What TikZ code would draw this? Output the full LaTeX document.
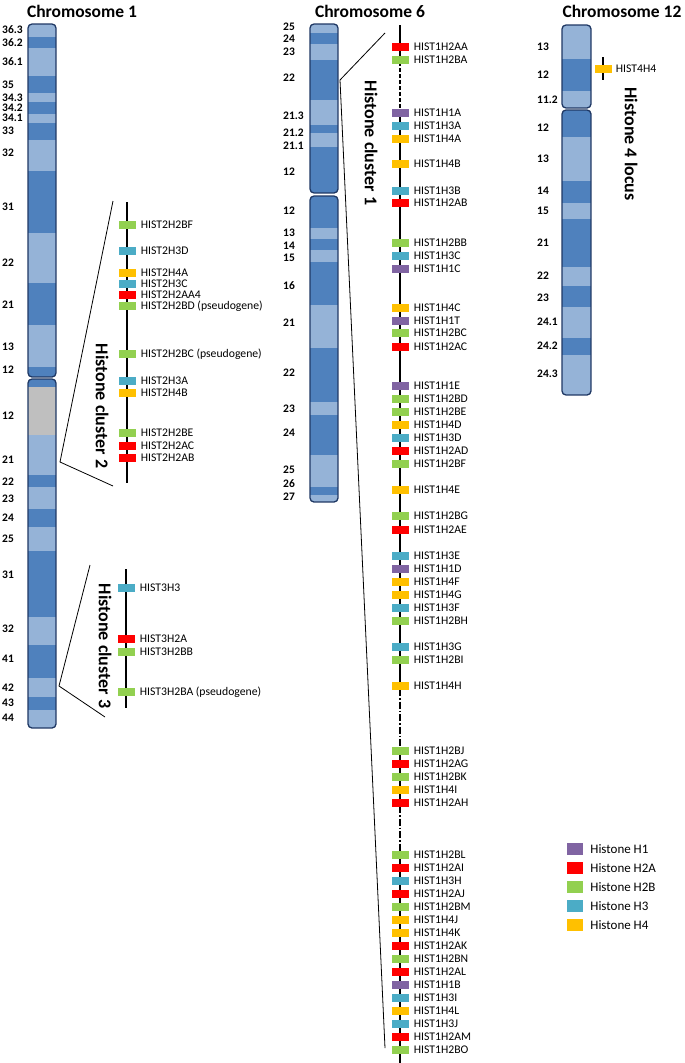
\documentclass[tikz,border=0pt]{standalone}
\usepackage{fontspec}
\setmainfont{Carlito}
\usepackage{tikz}
\usetikzlibrary{positioning}
\usepackage{xcolor}
\definecolor{hone}{HTML}{8064A2}
\definecolor{htwoa}{HTML}{FF0000}
\definecolor{htwob}{HTML}{92D050}
\definecolor{hthree}{HTML}{4BACC6}
\definecolor{hfour}{HTML}{FFC000}
\definecolor{bandlt}{HTML}{95B3D7}
\definecolor{banddk}{HTML}{4F81BD}
\definecolor{bandgr}{HTML}{BFBFBF}
\definecolor{chrline}{HTML}{1F3864}
% one chromosome arm: left, right, top, bottom, bands
\newcommand{\chromarm}[5]{%
  \begin{scope}
    \clip[rounded corners=4pt] (#1,#3) rectangle (#2,#4);
    \foreach \ta/\tb/\tc in {#5} \fill[\tc] (#1,\ta) rectangle (#2,\tb);
  \end{scope}
  \draw[chrom] (#1,#3) rectangle (#2,#4);}
\begin{document}
\begin{tikzpicture}[x=1pt,y=-1pt,
  chrom/.style={draw=chrline,line width=1.3pt,rounded corners=4pt},
  gene/.style={minimum width=17pt,minimum height=8pt,inner sep=0pt},
  legsq/.style={minimum width=16pt,minimum height=12pt,inner sep=0pt},
  glabel/.style={font=\fontsize{11.7}{13}\selectfont,inner sep=0pt,anchor=west},
  leglabel/.style={font=\fontsize{13}{15}\selectfont,inner sep=0pt,anchor=west},
  blabel/.style={font=\bfseries\fontsize{11.5}{13}\selectfont,inner sep=0pt,anchor=west},
  title/.style={font=\bfseries\fontsize{17.5}{20}\selectfont,inner sep=0pt},
  cluster/.style={font=\bfseries\fontsize{18}{20}\selectfont,inner sep=0pt,rotate=-90},
  gline/.style={line width=1.6pt},
  zoomline/.style={line width=0.8pt}]
\useasboundingbox[fill=white] (0,0) rectangle (685,1063);

% chromosomes
\chromarm{28}{56}{24}{377}{24/37/bandlt,37/48/banddk,48/76/bandlt,76/93/banddk,93/102/bandlt,102/114/banddk,114/123/bandlt,123/140/banddk,140/171/bandlt,171/233/banddk,233/283/bandlt,283/325/banddk,325/367/bandlt,367/377/banddk}
\chromarm{28}{56}{379}{728}{379/387/banddk,387/435/bandgr,435/475/bandlt,475/487/banddk,487/509/bandlt,509/527/banddk,527/551/bandlt,551/617/banddk,617/645/bandlt,645/678/banddk,678/697/bandlt,697/710/banddk,710/728/bandlt}
\chromarm{310}{338}{24}{193}{24/33/bandlt,33/44/banddk,44/60/bandlt,60/100/banddk,100/125/bandlt,125/133/banddk,133/147/bandlt,147/193/banddk}
\chromarm{310}{338}{196}{502}{196/228/banddk,228/239/bandlt,239/250/banddk,250/262/bandlt,262/305/banddk,305/348/bandlt,348/402/banddk,402/415/bandlt,415/455/banddk,455/487/bandlt,487/495/banddk,495/502/bandlt}
\chromarm{562}{591}{25}{108}{25/59/bandlt,59/91/banddk,91/108/bandlt}
\chromarm{562}{591}{110}{395}{110/137/banddk,137/181/bandlt,181/203/banddk,203/219/bandlt,219/267/banddk,267/286/bandlt,286/307/banddk,307/338/bandlt,338/355/banddk,355/395/bandlt}

% band labels
\foreach \by/\bn [count=\i] in {30/36.3,43/36.2,62/36.1,85/35,98/34.3,108/34.2,118/34.1,131/33,153/32,207/31,263/22,305/21,347/13,370/12,416/12,460/21,482/22,499/23,518/24,539/25,575/31,629/32,659/41,688/42,703/43,718/44}
  \node[blabel] (ba\i) at (2,\by) {\bn};
\foreach \by/\bn [count=\i] in {27/25,39/24,52/23,78/22,116/21.3,133/21.2,146/21.1,172/12,211/12,233/13,246/14,258/15,286/16,323/21,373/22,409/23,433/24,470/25,484/26,497/27}
  \node[blabel] (bf\i) at (283,\by) {\bn};
\foreach \by/\bn [count=\i] in {47/13,75/12,100/11.2,128/12,159/13,191/14,211/15,243/21,276/22,298/23,322/24.1,346/24.2,374/24.3}
  \node[blabel] (bt\i) at (537,\by) {\bn};

% titles
\node[title] (tA) at (82,11) {Chromosome 1};
\node[title] (tF) at (370,11) {Chromosome 6};
\node[title] (tT) at (622,11) {Chromosome 12};

% zoom lines
\coordinate (cF) at (340,80);
\coordinate (kAtop) at (385,33);
\coordinate (kAbot) at (385,1048);
\draw[zoomline] (kAtop) -- (cF) -- (kAbot);
\coordinate (cA) at (60,462);
\coordinate (kBtop) at (113,201);
\coordinate (kBbot) at (113,486);
\draw[zoomline] (kBtop) -- (cA) -- (kBbot);
\coordinate (cB) at (59,686);
\coordinate (kCtop) at (90,565);
\coordinate (kCbot) at (105,717);
\draw[zoomline] (kCtop) -- (cB) -- (kCbot);

% cluster 1 line
\coordinate (s1) at (400,25);
\coordinate (s2) at (400,62);
\coordinate (s3) at (400,110);
\coordinate (s4) at (400,689);
\coordinate (s5) at (400,748);
\coordinate (s6) at (400,806);
\coordinate (s7) at (400,852);
\coordinate (s8) at (400,1063);
\draw[gline] (s1) -- (s2);
\draw[gline,dash pattern=on 4pt off 2pt] (s2) -- (s3);
\draw[gline] (s3) -- (s4);
\draw[gline,dash pattern=on 7pt off 2pt on 1.5pt off 2pt] (s4) -- (s5);
\draw[gline] (s5) -- (s6);
\draw[gline,dash pattern=on 7pt off 2pt on 1.5pt off 2pt] (s6) -- (s7);
\draw[gline] (s7) -- (s8);
% cluster 2 and 3 lines
\coordinate (u1) at (127,202);
\coordinate (u2) at (127,483);
\draw[gline] (u1) -- (u2);
\coordinate (v1) at (126,569);
\coordinate (v2) at (126,708);
\draw[gline] (v1) -- (v2);
\coordinate (w1) at (603,57);
\coordinate (w2) at (603,80);
\draw[gline,line width=1.2pt] (w1) -- (w2);

% genes
\foreach \gy/\gc/\gn [count=\i] in {47/htwoa/HIST1H2AA,60/htwob/HIST1H2BA,113/hone/HIST1H1A,126/hthree/HIST1H3A,139/hfour/HIST1H4A,164/hfour/HIST1H4B,191/hthree/HIST1H3B,203/htwoa/HIST1H2AB,243/htwob/HIST1H2BB,256/hthree/HIST1H3C,269/hone/HIST1H1C,308/hfour/HIST1H4C,321/hone/HIST1H1T,333/htwob/HIST1H2BC,347/htwoa/HIST1H2AC,386/hone/HIST1H1E,399/htwob/HIST1H2BD,412/htwob/HIST1H2BE,425/hfour/HIST1H4D,438/hthree/HIST1H3D,451/htwoa/HIST1H2AD,464/htwob/HIST1H2BF,490/hfour/HIST1H4E,516/htwob/HIST1H2BG,530/htwoa/HIST1H2AE,556/hthree/HIST1H3E,569/hone/HIST1H1D,582/hfour/HIST1H4F,595/hfour/HIST1H4G,608/hthree/HIST1H3F,621/htwob/HIST1H2BH,647/hthree/HIST1H3G,660/htwob/HIST1H2BI,686/hfour/HIST1H4H,751/htwob/HIST1H2BJ,764/htwoa/HIST1H2AG,777/htwob/HIST1H2BK,790/hfour/HIST1H4I,803/htwoa/HIST1H2AH,855/htwob/HIST1H2BL,868/htwoa/HIST1H2AI,881/hthree/HIST1H3H,894/htwoa/HIST1H2AJ,907/htwob/HIST1H2BM,920/hfour/HIST1H4J,933/hfour/HIST1H4K,946/htwoa/HIST1H2AK,959/htwob/HIST1H2BN,972/htwoa/HIST1H2AL,985/hone/HIST1H1B,998/hthree/HIST1H3I,1011/hfour/HIST1H4L,1024/hthree/HIST1H3J,1037/htwoa/HIST1H2AM,1050/htwob/HIST1H2BO}{
  \node[gene,fill=\gc] (ga\i) at (400,\gy) {};
  \node[glabel,right=5pt of ga\i] (la\i) {\gn};
}
\foreach \gy/\gc/\gn [count=\i] in {225/htwob/HIST2H2BF,251/hthree/HIST2H3D,273/hfour/HIST2H4A,284/hthree/HIST2H3C,295/htwoa/HIST2H2AA4,306/htwob/HIST2H2BD (pseudogene),354/htwob/HIST2H2BC (pseudogene),381/hthree/HIST2H3A,393/hfour/HIST2H4B,433/htwob/HIST2H2BE,446/htwoa/HIST2H2AC,458/htwoa/HIST2H2AB}{
  \node[gene,fill=\gc] (gb\i) at (127,\gy) {};
  \node[glabel,right=5pt of gb\i] (lb\i) {\gn};
}
\foreach \gy/\gc/\gn [count=\i] in {588/hthree/HIST3H3,639/htwoa/HIST3H2A,652/htwob/HIST3H2BB,692/htwob/HIST3H2BA (pseudogene)}{
  \node[gene,fill=\gc] (gc\i) at (126,\gy) {};
  \node[glabel,right=5pt of gc\i] (lc\i) {\gn};
}
\node[gene,fill=hfour] (gd1) at (603,69) {};
\node[glabel,right=4pt of gd1] (ld1) {HIST4H4};

% cluster names
\node[cluster] (nA) at (371,143) {Histone cluster 1};
\node[cluster] (nB) at (102,406) {Histone cluster 2};
\node[cluster] (nC) at (105,646) {Histone cluster 3};
\node[cluster] (nD) at (631,144) {Histone 4 locus};

% legend
\foreach \ly/\lc/\ln [count=\i] in {849/hone/Histone H1,868/htwoa/Histone H2A,887/htwob/Histone H2B,906/hthree/Histone H3,925/hfour/Histone H4}{
  \node[legsq,fill=\lc] (lq\i) at (575,\ly) {};
  \node[leglabel,right=7pt of lq\i] (lt\i) {\ln};
}
\end{tikzpicture}
\end{document}
